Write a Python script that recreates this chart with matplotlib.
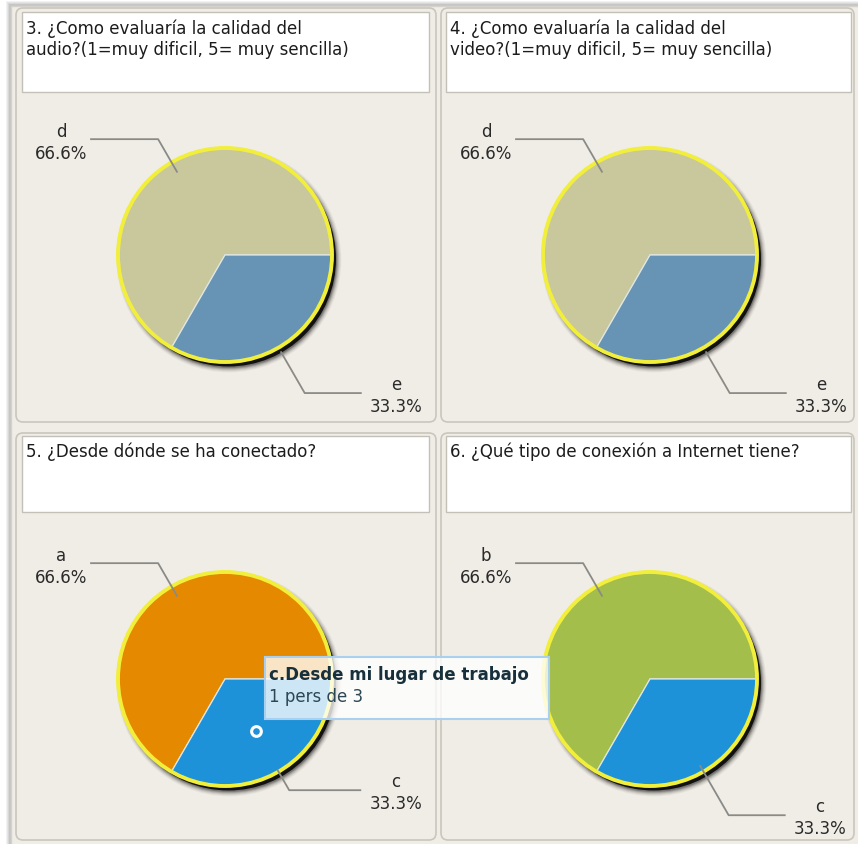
import numpy as np
import matplotlib
matplotlib.use("Agg")
import matplotlib.pyplot as plt
from matplotlib.patches import FancyBboxPatch, Circle, Rectangle

# ---------------- data ----------------
titles = [
    "3. ¿Como evaluaría la calidad del\naudio?(1=muy dificil, 5= muy sencilla)",
    "4. ¿Como evaluaría la calidad del\nvideo?(1=muy dificil, 5= muy sencilla)",
    "5. ¿Desde dónde se ha conectado?",
    "6. ¿Qué tipo de conexión a Internet tiene?",
]
labels_q3 = ["d", "e"]
values_q3 = [66.6, 33.3]
labels_q4 = ["d", "e"]
values_q4 = [66.6, 33.3]
labels_q5 = ["a", "c"]
values_q5 = [66.6, 33.3]
labels_q6 = ["b", "c"]
values_q6 = [66.6, 33.3]

tooltip_title = "c.Desde mi lugar de trabajo"
tooltip_text = "1 pers de 3"

# ---------------- style / layout ----------------
colors_q3 = ["#c9c89c", "#6793b4"]
colors_q4 = ["#c9c89c", "#6793b4"]
colors_q5 = ["#e58a00", "#1e92d8"]
colors_q6 = ["#a4be4b", "#1e92d8"]

W, H = 858, 845
BG = "#f0ede6"
FONT = "DejaVu Sans"
FS = 12

# panel boxes (x0, y0, x1, y1) in pixels (y downwards)
panels = [(16, 9, 436, 423), (441, 9, 854, 423), (16, 434, 436, 841), (441, 434, 854, 841)]
title_boxes = [(22, 13, 429, 93), (446, 13, 851, 93), (22, 437, 429, 513), (446, 437, 851, 513)]
centers = [(225, 256), (650, 256), (225, 680), (650, 680)]
R = 107
# inner / elbow factor / horizontal arm for the second slice's leader line
inner2 = [1.04, 1.04, 0.98, 0.93]
elbow2 = [1.49, 1.49, 1.20, 1.47]
arm2 = [57, 57, 72, 57]

charts = [
    (labels_q3, values_q3, colors_q3),
    (labels_q4, values_q4, colors_q4),
    (labels_q5, values_q5, colors_q5),
    (labels_q6, values_q6, colors_q6),
]

fig = plt.figure(figsize=(W / 100, H / 100), dpi=100)
fig.patch.set_facecolor("#ffffff")
ax = fig.add_axes([0, 0, 1, 1])

# outer container with soft shadow
for k, a in enumerate([0.05, 0.05, 0.06, 0.08]):
    ax.add_patch(Rectangle((10 - 4 + k, 6 - 4 + k), W, H, facecolor="#000000",
                           edgecolor="none", alpha=a, zorder=0))
ax.add_patch(Rectangle((11, 7), W, H, facecolor=BG, edgecolor="#d5d2ca", lw=1.0, zorder=0.5))

for i, ((lab, val, col), (px0, py0, px1, py1), (tx0, ty0, tx1, ty1), (cx, cy)) in enumerate(
        zip(charts, panels, title_boxes, centers)):
    ax.add_patch(FancyBboxPatch((px0, py0), px1 - px0, py1 - py0,
                                boxstyle="round,pad=0,rounding_size=7",
                                facecolor=BG, edgecolor="#c9c6be", lw=1.2, zorder=1))
    ax.add_patch(Rectangle((tx0, ty0), tx1 - tx0, ty1 - ty0, facecolor="white",
                           edgecolor="#c3c0b8", lw=1.0, zorder=2))
    ax.text(tx0 + 4, ty0 + 6, titles[i], ha="left", va="top", fontsize=FS,
            family=FONT, color="#1c1c1c", linespacing=1.22, zorder=3)

    # blurred shadow of the pie (bottom-right)
    for s, a in [(9, 0.04), (7.5, 0.05), (6, 0.07), (4.5, 0.10), (3, 0.15), (1.5, 0.22)]:
        ax.add_patch(Circle((cx + 4, cy + 5), R + s * 0.6, facecolor="black",
                            edgecolor="none", alpha=a, zorder=3))
    ax.add_patch(Circle((cx + 3.5, cy + 4), R + 0.5, facecolor="black",
                        edgecolor="none", alpha=0.85, zorder=3.2))

    wedges, _ = ax.pie(val, colors=col, startangle=0, counterclock=False,
                       center=(cx, cy), radius=R, frame=True,
                       wedgeprops=dict(edgecolor="#dfe8e6", linewidth=0.9, zorder=4))
    for w in wedges:
        w.set_zorder(4)
    ax.add_patch(Circle((cx, cy), R, facecolor="none", edgecolor="#f2ee3c",
                        lw=2.8, zorder=5))

    total = sum(val)
    start = 0.0
    for j, v in enumerate(val):
        span = 360.0 * v / total
        mid = np.deg2rad(start + span / 2)
        start += span
        dx, dy = np.cos(mid), -np.sin(mid)
        if j == 0:
            f_in, f_el, arm = 0.89, 1.25, -68
        else:
            f_in, f_el, arm = inner2[i], elbow2[i], arm2[i]
        p_in = (cx + f_in * R * dx, cy + f_in * R * dy)
        p_el = (cx + f_el * R * dx, cy + f_el * R * dy)
        p_end = (p_el[0] + arm, p_el[1])
        ax.plot([p_in[0], p_el[0], p_end[0]], [p_in[1], p_el[1], p_end[1]],
                color="#8a8a86", lw=1.3, zorder=6, solid_capstyle="butt")
        txt = f"{lab[j]}\n{v:.1f}%"
        if arm < 0:
            ax.text(p_end[0] - 3, p_end[1] + 3, txt, ha="right", va="center",
                    multialignment="center", fontsize=FS, family=FONT,
                    color="#2a2a2a", linespacing=1.25, zorder=6)
        else:
            ax.text(p_end[0] + 8, p_end[1] + 2, txt, ha="left", va="center",
                    multialignment="center", fontsize=FS, family=FONT,
                    color="#2a2a2a", linespacing=1.25, zorder=6)

# tooltip on chart 5
tcx, tcy = centers[2]
ax.add_patch(Rectangle((265, 658), 284, 62, facecolor="white", alpha=0.78,
                       edgecolor="none", zorder=8))
ax.add_patch(Rectangle((265, 658), 284, 62, facecolor="none",
                       edgecolor="#a9d0ee", lw=1.5, zorder=8.5))
ax.text(269, 675, tooltip_title, ha="left", va="center", fontsize=FS,
        fontweight="bold", family=FONT, color="#17303c", zorder=9)
ax.text(269, 697, tooltip_text, ha="left", va="center", fontsize=FS,
        family=FONT, color="#2c4654", zorder=9)
ax.plot([tcx + 31], [tcy + 52], marker="o", ms=7, mfc="none", mec="white",
        mew=2.2, zorder=9)

ax.set_xlim(0, W)
ax.set_ylim(H, 0)
ax.set_aspect("auto")
ax.axis("off")

fig.savefig("out.png", dpi=100, facecolor=fig.get_facecolor())
